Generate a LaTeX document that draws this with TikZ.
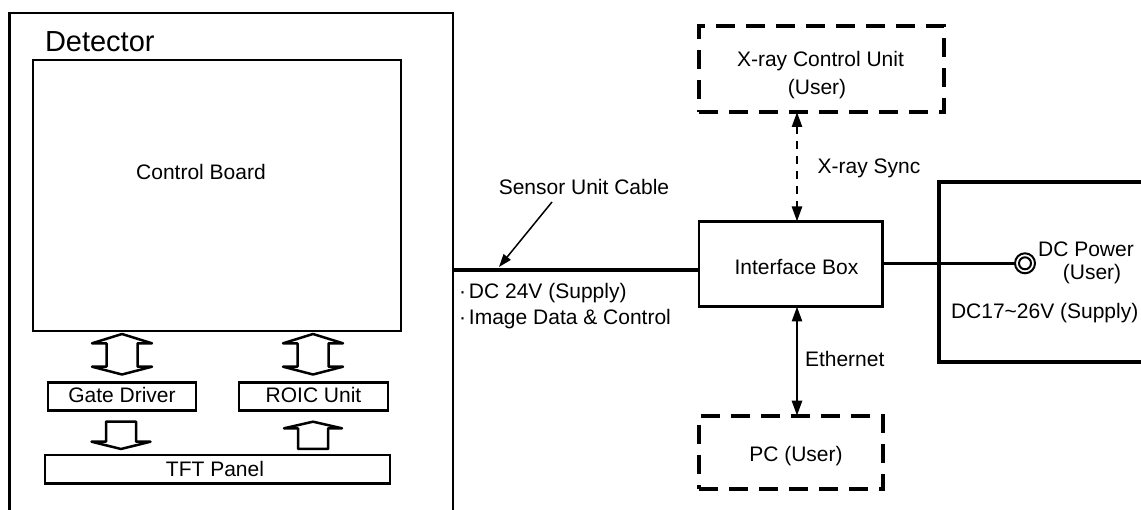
\documentclass[tikz,border=0pt]{standalone}
\usepackage{fontspec}
\setmainfont{Liberation Sans}
\usetikzlibrary{arrows.meta}
\tikzset{
  every node/.style={font=\fontsize{21}{25}\selectfont, inner sep=0pt, outer sep=0pt},
  box/.style={draw, line width=2.8pt, rectangle},
  userbox/.style={draw, line width=4pt, rectangle, dash pattern=on 19pt off 11pt},
  lbl/.style={anchor=base},
  arr/.style={line width=2.6pt, {Triangle[length=15pt,width=10pt]}-{Triangle[length=15pt,width=10pt]}},
  darr/.style={arr, dash pattern=on 8pt off 7pt},
  hollow/.style={draw, line width=2.5pt, line join=round},
}
\begin{document}
\begin{tikzpicture}[x=1pt,y=-1pt]
\useasboundingbox (0,0) rectangle (1141,510);
% Detector side
\node[box, minimum width=443.5pt, minimum height=507pt] (det) at (231.25,266.5) {};
\node[anchor=base west, font=\fontsize{29}{33}\selectfont] (dettxt) at (45,52) {Detector};
\node[box, minimum width=368pt, minimum height=271pt] (cb) at (217,195.5) {};
\node[lbl] (cbtxt) at (201,179.5) {Control Board};
\node[box, minimum width=148pt, minimum height=28pt] (gd) at (122,396.3) {};
\node[lbl] (gdtxt) at (122,402.7) {Gate Driver};
\node[box, minimum width=149pt, minimum height=28pt] (roic) at (313.5,396.3) {};
\node[lbl] (roictxt) at (313.5,402.7) {ROIC Unit};
\node[box, minimum width=345pt, minimum height=28.3pt] (tft) at (217.5,469.2) {};
\node[lbl] (tfttxt) at (215,476.7) {TFT Panel};
% hollow double arrows
\foreach \c in {122,313}{
  \draw[hollow] (\c,334) -- (\c+30,343.3) -- (\c+15.5,343.3) -- (\c+15.5,366.7) -- (\c+30,366.7)
    -- (\c,374.5) -- (\c-30,366.7) -- (\c-15.5,366.7) -- (\c-15.5,343.3) -- (\c-30,343.3) -- cycle;
}
% down arrow
\draw[hollow] (106,421.7) -- (136,421.7) -- (136,441.7) -- (150.5,441.7) -- (121,449) -- (91.5,441.7) -- (106,441.7) -- cycle;
% up arrow
\draw[hollow] (313,421.7) -- (342,428.3) -- (328,428.3) -- (328,449) -- (298,449) -- (298,428.3) -- (284,428.3) -- cycle;
% right side
\node[box, minimum width=183.7pt, minimum height=85pt] (ifb) at (790.85,264) {};
\node[lbl] (ifbtxt) at (796.5,275) {Interface Box};
\node[userbox, minimum width=245pt, minimum height=86pt] (xcu) at (821.5,69) {};
\node[lbl] (xcutxt1) at (820.5,66.7) {X-ray Control Unit};
\node[lbl] (xcutxt2) at (817,95) {(User)};
\node[userbox, minimum width=183.7pt, minimum height=73.3pt] (pc) at (790.85,452.35) {};
\node[lbl] (pctxt) at (796,461.7) {PC (User)};
\node[draw, line width=4pt, minimum width=221pt, minimum height=180pt] (dcp) at (1049.5,272) {};
\node[lbl] (dcptxt1) at (1086,256.7) {DC Power};
\node[lbl] (dcptxt2) at (1092,280) {(User)};
\node[anchor=base west] (dcptxt3) at (951,318.5) {DC17\textasciitilde 26V (Supply)};
\node[draw, circle, line width=2pt, minimum size=20pt] (circ) at (1025,263.3) {};
\draw[line width=2pt] (circ.center) circle (6pt);
% connectors
\coordinate (ax) at (797,0);
\coordinate (cy) at (0,270);
\coordinate (py) at (0,263.3);
\draw[darr] (xcu.south -| ax) -- (ifb.north -| ax);
\draw[arr] (ifb.south -| ax) -- (pc.north -| ax);
\draw[line width=4.5pt] (det.east |- cy) -- (ifb.west |- cy);
\draw[line width=2.6pt] (ifb.east |- py) -- (circ.west);
\node[lbl] (sxtxt) at (869,173.3) {X-ray Sync};
\node[anchor=base west] (ethtxt) at (805,366.7) {Ethernet};
\node[lbl] (sctxt) at (584,194.3) {Sensor Unit Cable};
\coordinate (ls) at (552,202);
\coordinate (lt) at (499,267);
\draw[line width=1.5pt, -{Triangle[length=13pt,width=9pt]}] (ls) -- (lt);
\node[anchor=base west] (c1) at (459,298.3) {·\hspace{3pt}DC 24V (Supply)};
\node[anchor=base west] (c2) at (459,325) {·\hspace{3pt}Image Data \& Control};
\end{tikzpicture}
\end{document}
